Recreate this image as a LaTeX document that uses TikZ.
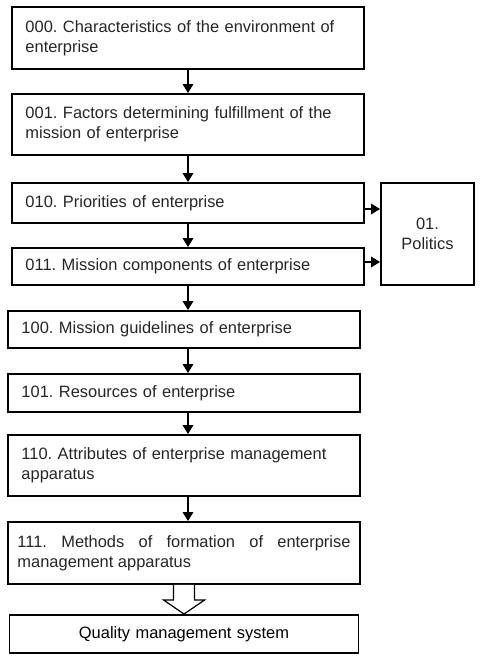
\documentclass[tikz,border=0pt]{standalone}
\usepackage{fontspec}
\setmainfont{Liberation Sans}
\usetikzlibrary{arrows.meta}
\frenchspacing
\hyphenpenalty=10000
\exhyphenpenalty=10000

\begin{document}
\begin{tikzpicture}[x=1bp,y=-1bp,
  box/.style={draw, line width=1.9bp, rectangle, minimum width=352bp,
    text width=325bp, align=left, text=black!85,
    font=\fontsize{16.5}{20.5}\selectfont},
  arr/.style={line width=1.9bp, -{Triangle[width=10.5bp,length=9bp]}},
  hollow/.style={line width=1.2bp, fill=white}]
  \useasboundingbox (0,0) rectangle (480,658);
  % chain of boxes
  \node[box, minimum height=62bp] (m000) at (188,38) {000. Characteristics of the environment of enterprise};
  \node[box, minimum height=61bp] (m001) at (188,124.5) {001. Factors determining fulfillment of the mission of enterprise};
  \node[box, minimum height=40bp] (m010) at (188,203) {010. Priorities of enterprise};
  \node[box, minimum height=37bp] (m011) at (188,266.5) {011. Mission components of enterprise};
  \node[box, minimum width=93bp, minimum height=102bp, text width=80bp, align=center] (pol) at (427.5,234) {01.\\Politics};
  \node[box, minimum height=37bp] (m100) at (184,329.5) {100. Mission guidelines of enterprise};
  \node[box, minimum height=38bp] (m101) at (184,393) {101. Resources of enterprise};
  \node[box, minimum height=61bp] (m110) at (184,465.5) {110. Attributes of enterprise management apparatus};
  \node[box, minimum height=62bp, text width=333bp, align=justify] (m111) at (184,553) {111. Methods of formation of enterprise management apparatus};
  \node[box, minimum width=349bp, minimum height=38bp, align=center, text=black] (qms) at (184,634) {Quality management system};
  % arrows
  \coordinate (ax) at (188,0);
  \foreach \a/\b in {m000/m001, m001/m010, m010/m011, m011/m100, m100/m101, m101/m110, m110/m111}
    \draw[arr] (\a.south -| ax) -- (\b.north -| ax);
  \draw[arr] ([yshift=-6bp]m010.east) -- ([yshift=-6bp]m010.east -| pol.west);
  \draw[arr] ([yshift=4.5bp]m011.east) -- ([yshift=4.5bp]m011.east -| pol.west);
  \draw[hollow] ([xshift=-10.5bp]m111.south) -- ++(0,15) -- ++(-10,0) -- (qms.north)
    -- ++(20.5,-14) -- ++(-10,0) -- ([xshift=10.5bp]m111.south);
\end{tikzpicture}
\end{document}
